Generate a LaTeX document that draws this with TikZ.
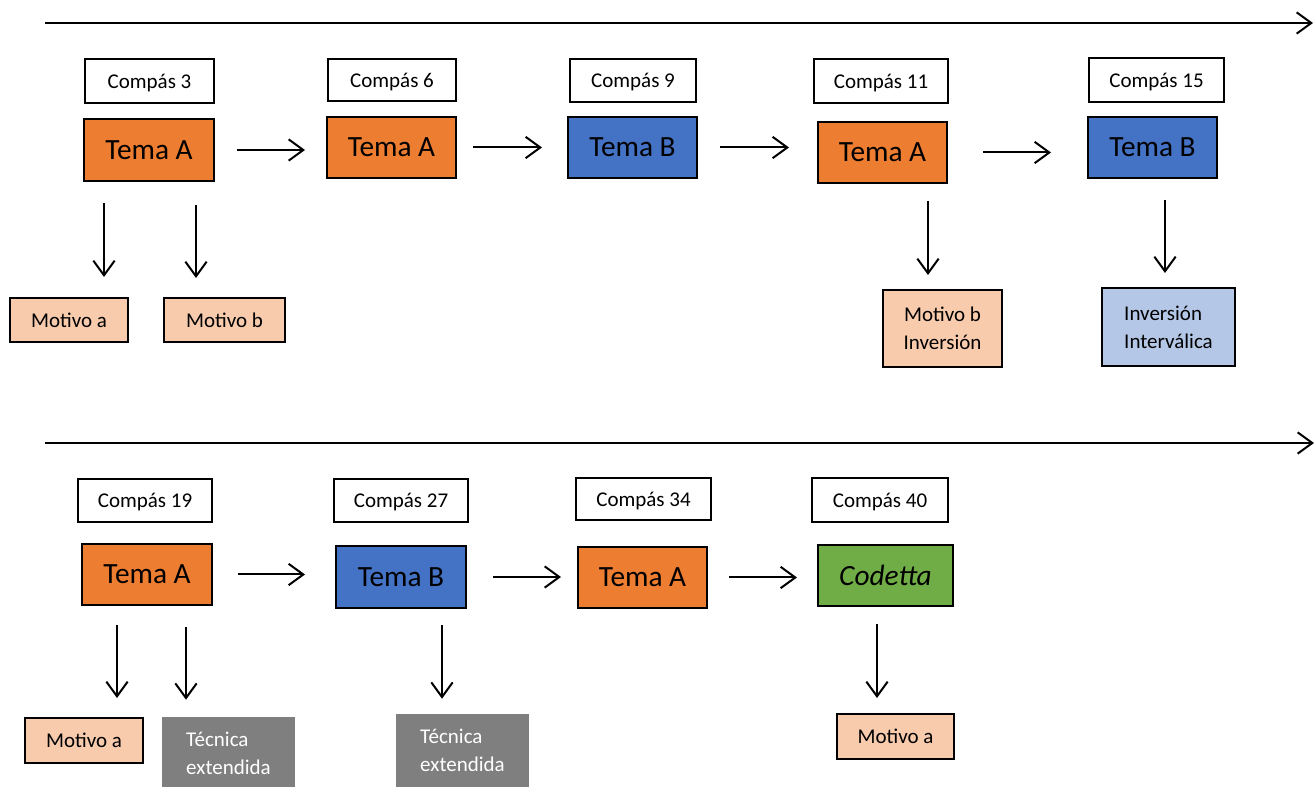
\documentclass[tikz,border=0pt]{standalone}
\usepackage{fontspec}
\setmainfont{Carlito}
\usetikzlibrary{arrows.meta}
\definecolor{temaA}{HTML}{ED7D31}
\definecolor{temaB}{HTML}{4472C4}
\definecolor{motA}{HTML}{F8CBAD}
\definecolor{motB}{HTML}{B4C7E7}
\definecolor{coda}{HTML}{70AD47}
\definecolor{tecn}{HTML}{7F7F7F}
\begin{document}
\begin{tikzpicture}[x=0.75pt,y=-0.75pt,
  sz/.style 2 args={minimum width={(#1-2)*0.75pt}, minimum height={(#2-2)*0.75pt}},
  base/.style={rectangle, inner sep=0pt, align=center},
  compas/.style={base, draw=black, line width=1.5pt, fill=white, text depth=0pt, font=\fontsize{15.75}{19}\selectfont},
  tema/.style={base, draw=black, line width=1.5pt, font=\fontsize{22}{26}\selectfont},
  tA/.style={tema, fill=temaA},
  tB/.style={tema, fill=temaB},
  tC/.style={tema, fill=coda, font=\fontsize{22}{26}\selectfont\itshape},
  motivo/.style={base, draw=black, line width=1.5pt, fill=motA, font=\fontsize{15.75}{21}\selectfont},
  low/.style={text depth=0pt},
  motivoB/.style={motivo, fill=motB},
  tecnica/.style={base, fill=tecn, text=white, align=left, font=\fontsize{15.75}{21}\selectfont},
  arr/.style={line width=1.5pt, -{Straight Barb[length=11pt,width=16pt]}},
  gap/.style 2 args={shorten <={#1*0.75pt}, shorten >={#2*0.75pt}}
]
\clip (0,0) rectangle (1314,787);

% timelines
\coordinate (L1s) at (45,23);
\coordinate (L1e) at (1313,23);
\coordinate (L2s) at (45,443);
\coordinate (L2e) at (1314,443);
\draw[arr] (L1s) -- (L1e);
\draw[arr] (L2s) -- (L2e);

% top row
\node[compas, sz={131}{46}] (c3) at (149.5,81) {Compás 3};
\node[tA, sz={132}{64}] (t1) at (149,150) {Tema A};
\node[compas, sz={130}{44}] (c6) at (392,80) {Compás 6};
\node[tA, sz={131}{63}] (t2) at (391.5,147.5) {Tema A};
\node[compas, sz={128}{45}] (c9) at (633,80.5) {Compás 9};
\node[tB, sz={131}{63}] (t3) at (632.5,147.5) {Tema B};
\node[compas, sz={136}{46}] (c11) at (881,81) {Compás 11};
\node[tA, sz={131}{63}] (t4) at (882.5,152.5) {Tema A};
\node[compas, sz={137}{46}] (c15) at (1156.5,80) {Compás 15};
\node[tB, sz={131}{63}] (t5) at (1152.5,147.5) {Tema B};

\node[motivo, low, sz={120}{46}] (ma1) at (69,320) {Motivo a};
\node[motivo, low, sz={123}{46}] (mb1) at (224.5,320) {Motivo b};
\node[motivo, sz={121}{79}] (mbi) at (942.5,328.5) {Motivo b\\Inversión};
\node[motivoB, sz={135}{80}, align=left] (ii) at (1168.5,327) {Inversión\\Interválica};

% bottom row
\node[compas, sz={136}{45}] (c19) at (145,500.5) {Compás 19};
\node[tA, sz={132}{63}] (t6) at (147,574.5) {Tema A};
\node[compas, sz={136}{45}] (c27) at (401,500.5) {Compás 27};
\node[tB, sz={132}{64}] (t7) at (401,577) {Tema B};
\node[compas, sz={137}{44}] (c34) at (643.5,499) {Compás 34};
\node[tA, sz={131}{63}] (t8) at (642.5,577.5) {Tema A};
\node[compas, sz={138}{46}] (c40) at (880,500) {Compás 40};
\node[tC, sz={137}{63}] (cod) at (885.5,575.5) {Codetta};

\node[motivo, low, sz={120}{47}] (ma2) at (84,740.5) {Motivo a};
\node[tecnica, minimum width={133*0.75pt}, minimum height={73*0.75pt}] (te1) at (228.5,753.5) {Técnica\\extendida};
\node[tecnica, minimum width={133*0.75pt}, minimum height={73*0.75pt}] (te2) at (462.5,750.5) {Técnica\\extendida};
\node[motivo, low, sz={119}{47}] (ma3) at (895.5,736.5) {Motivo a};

% horizontal arrows
\draw[arr, gap={22}{21}] (t1.east) -- (t1.east -| t2.west);
\draw[arr, gap={16}{25}] (t2.east) -- (t2.east -| t3.west);
\draw[arr, gap={22}{28}] (t3.east) -- (t3.east -| t4.west);
\draw[arr, gap={35}{36}] (t4.east) -- (t4.east -| t5.west);
\draw[arr, gap={25}{30}] (t6.east) -- (t6.east -| t7.west);
\draw[arr, gap={26}{16}] (t7.east) -- (t7.east -| t8.west);
\draw[arr, gap={21}{20}] (t8.east) -- (t8.east -| cod.west);

% vertical arrows
\coordinate (x1) at (104,0);
\coordinate (x2) at (196,0);
\coordinate (x3) at (928,0);
\coordinate (x4) at (1165,0);
\coordinate (x5) at (117,0);
\coordinate (x6) at (186,0);
\coordinate (x7) at (442,0);
\coordinate (x8) at (877,0);
\draw[arr, gap={21}{20}] (t1.south -| x1) -- (ma1.north -| x1);
\draw[arr, gap={23}{19}] (t1.south -| x2) -- (mb1.north -| x2);
\draw[arr, gap={17}{14}] (t4.south -| x3) -- (mbi.north -| x3);
\draw[arr, gap={21}{14}] (t5.south -| x4) -- (ii.north -| x4);
\draw[arr, gap={19}{19}] (t6.south -| x5) -- (ma2.north -| x5);
\draw[arr, gap={21}{17}] (t6.south -| x6) -- (te1.north -| x6);
\draw[arr, gap={16}{15}] (t7.south -| x7) -- (te2.north -| x7);
\draw[arr, gap={17}{15}] (cod.south -| x8) -- (ma3.north -| x8);
\end{tikzpicture}
\end{document}
